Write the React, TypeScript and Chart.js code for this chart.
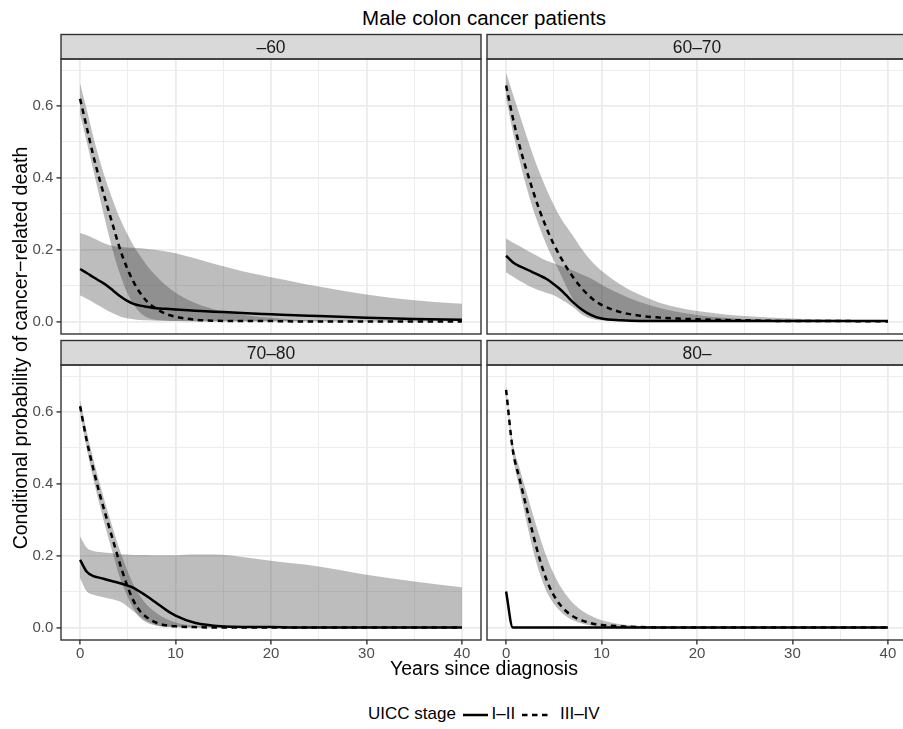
import React, { useEffect, useRef } from 'react';
import { Chart, registerables } from 'chart.js';

Chart.register(...registerables);

const FONT = "'Liberation Sans', Arial, Helvetica, sans-serif";

// ---------------- data ----------------
const YEARS = [0, 0.7, 1.4, 2.1, 2.8, 3.5, 4.2, 4.9, 5.6, 6.3, 7, 8, 9, 10, 12, 14, 16, 18, 20, 22.5, 25, 30, 35, 40];

const PANEL_LABELS = ['–60', '60–70', '70–80', '80–'];
const STAGES = ['I–II', 'III–IV'];

const X_TICKS = [0, 10, 20, 30, 40];
const X_MINOR = [5, 15, 25, 35];
const Y_TICKS = [0, 0.2, 0.4, 0.6];
const Y_MINOR = [0.1, 0.3, 0.5, 0.7];

// panel "-60"
const P1_I_II = [0.146, 0.135, 0.123, 0.112, 0.100, 0.085, 0.070, 0.058, 0.049, 0.044, 0.041, 0.037, 0.035, 0.033, 0.030, 0.027, 0.025, 0.022, 0.020, 0.017, 0.015, 0.010, 0.007, 0.005];
const P1_I_II_LO = [0.072, 0.063, 0.053, 0.042, 0.031, 0.022, 0.014, 0.009, 0.006, 0.004, 0.003, 0.002, 0.002, 0.001, 0.001, 0.001, 0.001, 0.001, 0.001, 0.001, 0.001, 0.001, 0.001, 0.001];
const P1_I_II_HI = [0.246, 0.240, 0.232, 0.223, 0.215, 0.210, 0.208, 0.206, 0.205, 0.204, 0.202, 0.199, 0.195, 0.190, 0.176, 0.161, 0.147, 0.134, 0.123, 0.110, 0.097, 0.075, 0.059, 0.049];
const P1_III_IV = [0.620, 0.540, 0.460, 0.390, 0.325, 0.262, 0.200, 0.150, 0.110, 0.079, 0.056, 0.035, 0.021, 0.013, 0.005, 0.002, 0.001, 0.001, 0.001, 0, 0, 0, 0, 0];
const P1_III_IV_LO = [0.578, 0.500, 0.420, 0.340, 0.262, 0.190, 0.130, 0.082, 0.048, 0.024, 0.011, 0.004, 0.002, 0.001, 0, 0, 0, 0, 0, 0, 0, 0, 0, 0];
const P1_III_IV_HI = [0.663, 0.590, 0.513, 0.445, 0.385, 0.333, 0.285, 0.246, 0.211, 0.182, 0.156, 0.126, 0.100, 0.080, 0.052, 0.034, 0.023, 0.015, 0.010, 0.005, 0.003, 0.001, 0.001, 0];

// panel "60-70"
const P2_I_II = [0.183, 0.165, 0.154, 0.146, 0.137, 0.128, 0.119, 0.106, 0.091, 0.073, 0.054, 0.032, 0.017, 0.008, 0.003, 0.001, 0.001, 0.001, 0.001, 0.001, 0.001, 0.001, 0.001, 0.001];
const P2_I_II_LO = [0.137, 0.125, 0.113, 0.103, 0.094, 0.086, 0.080, 0.074, 0.064, 0.053, 0.040, 0.018, 0.007, 0.003, 0.001, 0, 0, 0, 0, 0, 0, 0, 0, 0];
const P2_I_II_HI = [0.231, 0.220, 0.210, 0.199, 0.189, 0.179, 0.170, 0.163, 0.156, 0.149, 0.142, 0.130, 0.118, 0.102, 0.076, 0.054, 0.038, 0.026, 0.018, 0.011, 0.007, 0.003, 0.001, 0.001];
const P2_III_IV = [0.657, 0.568, 0.490, 0.425, 0.365, 0.310, 0.262, 0.220, 0.184, 0.152, 0.124, 0.090, 0.064, 0.046, 0.026, 0.016, 0.011, 0.008, 0.006, 0.004, 0.003, 0.001, 0.001, 0];
const P2_III_IV_LO = [0.622, 0.530, 0.450, 0.378, 0.315, 0.262, 0.215, 0.175, 0.138, 0.098, 0.062, 0.028, 0.012, 0.006, 0.003, 0.002, 0.001, 0.001, 0.001, 0.001, 0, 0, 0, 0];
const P2_III_IV_HI = [0.693, 0.635, 0.577, 0.520, 0.465, 0.415, 0.370, 0.330, 0.294, 0.265, 0.239, 0.199, 0.166, 0.141, 0.102, 0.074, 0.053, 0.039, 0.029, 0.021, 0.015, 0.008, 0.005, 0.003];

// panel "70-80"
const P3_I_II = [0.188, 0.155, 0.143, 0.138, 0.133, 0.128, 0.123, 0.117, 0.110, 0.099, 0.087, 0.068, 0.049, 0.033, 0.013, 0.005, 0.002, 0.001, 0.001, 0, 0, 0, 0, 0];
const P3_I_II_LO = [0.137, 0.100, 0.091, 0.086, 0.082, 0.078, 0.072, 0.060, 0.045, 0.030, 0.017, 0.006, 0.002, 0.001, 0, 0, 0, 0, 0, 0, 0, 0, 0, 0];
const P3_I_II_HI = [0.253, 0.222, 0.213, 0.210, 0.208, 0.206, 0.204, 0.203, 0.202, 0.202, 0.202, 0.201, 0.201, 0.201, 0.203, 0.203, 0.200, 0.193, 0.186, 0.178, 0.170, 0.147, 0.128, 0.112];
const P3_III_IV = [0.616, 0.520, 0.440, 0.367, 0.302, 0.238, 0.175, 0.119, 0.074, 0.045, 0.028, 0.013, 0.006, 0.003, 0.001, 0, 0, 0, 0, 0, 0, 0, 0, 0];
const P3_III_IV_LO = [0.597, 0.497, 0.412, 0.336, 0.265, 0.200, 0.136, 0.090, 0.052, 0.026, 0.013, 0.005, 0.002, 0.001, 0, 0, 0, 0, 0, 0, 0, 0, 0, 0];
const P3_III_IV_HI = [0.634, 0.545, 0.468, 0.397, 0.331, 0.270, 0.212, 0.162, 0.119, 0.087, 0.063, 0.040, 0.024, 0.014, 0.005, 0.002, 0.001, 0, 0, 0, 0, 0, 0, 0];

// panel "80-"
const P4_I_II = [0.100, 0, 0, 0, 0, 0, 0, 0, 0, 0, 0, 0, 0, 0, 0, 0, 0, 0, 0, 0, 0, 0, 0, 0];
const P4_III_IV = [0.662, 0.495, 0.415, 0.338, 0.262, 0.192, 0.135, 0.094, 0.065, 0.045, 0.031, 0.019, 0.011, 0.007, 0.003, 0.001, 0, 0, 0, 0, 0, 0, 0, 0];
const P4_III_IV_LO = [0.653, 0.478, 0.388, 0.300, 0.218, 0.152, 0.103, 0.070, 0.047, 0.031, 0.020, 0.010, 0.005, 0.002, 0.001, 0, 0, 0, 0, 0, 0, 0, 0, 0];
const P4_III_IV_HI = [0.671, 0.515, 0.445, 0.380, 0.315, 0.255, 0.200, 0.155, 0.118, 0.090, 0.068, 0.046, 0.031, 0.020, 0.009, 0.004, 0.002, 0.001, 0, 0, 0, 0, 0, 0];

type PanelData = {
  label: string;
  i: number[];
  iLo: number[] | null;
  iHi: number[] | null;
  iii: number[];
  iiiLo: number[];
  iiiHi: number[];
};

const PANELS: PanelData[] = [
  { label: PANEL_LABELS[0], i: P1_I_II, iLo: P1_I_II_LO, iHi: P1_I_II_HI, iii: P1_III_IV, iiiLo: P1_III_IV_LO, iiiHi: P1_III_IV_HI },
  { label: PANEL_LABELS[1], i: P2_I_II, iLo: P2_I_II_LO, iHi: P2_I_II_HI, iii: P2_III_IV, iiiLo: P2_III_IV_LO, iiiHi: P2_III_IV_HI },
  { label: PANEL_LABELS[2], i: P3_I_II, iLo: P3_I_II_LO, iHi: P3_I_II_HI, iii: P3_III_IV, iiiLo: P3_III_IV_LO, iiiHi: P3_III_IV_HI },
  { label: PANEL_LABELS[3], i: P4_I_II, iLo: null, iHi: null, iii: P4_III_IV, iiiLo: P4_III_IV_LO, iiiHi: P4_III_IV_HI },
];

// ---------------- layout / style ----------------
const BOXES = [
  { left: 0, top: 33, width: 484, height: 304, showY: true, showX: false },
  { left: 484, top: 33, width: 426, height: 304, showY: false, showX: false },
  { left: 0, top: 339, width: 484, height: 321, showY: true, showX: true },
  { left: 484, top: 339, width: 426, height: 321, showY: false, showX: true },
];

const STRIP_H = 24.5;
const RIBBON = 'rgba(51,51,51,0.32)';
const GRID = '#EBEBEB';
const DARK = '#333333';
const LINE_W = 2.5;
const DASH = [5.5, 4.5];
const TICK_SIZE = 15;

const toPts = (ys: number[]) => YEARS.map((x, k) => ({ x, y: ys[k] }));

const panelDecor = {
  id: 'panelDecor',
  afterDraw(chart: any, _args: any, opts: any) {
    const { ctx, chartArea: a } = chart;
    ctx.save();
    ctx.fillStyle = '#D9D9D9';
    ctx.fillRect(a.left, a.top - STRIP_H, a.right - a.left, STRIP_H);
    ctx.strokeStyle = DARK;
    ctx.lineWidth = 1.4;
    ctx.strokeRect(a.left, a.top - STRIP_H, a.right - a.left, STRIP_H);
    ctx.strokeRect(a.left, a.top, a.right - a.left, a.bottom - a.top);
    ctx.fillStyle = '#1A1A1A';
    ctx.font = `17.5px ${FONT}`;
    ctx.textAlign = 'center';
    ctx.textBaseline = 'middle';
    ctx.fillText(opts.label, (a.left + a.right) / 2, a.top - STRIP_H / 2 + 1);
    ctx.restore();
  },
};

function buildConfig(p: PanelData, box: typeof BOXES[number]): any {
  const base = {
    pointRadius: 0,
    pointHoverRadius: 0,
    cubicInterpolationMode: 'monotone',
  };
  const datasets: any[] = [
    { ...base, label: STAGES[0], data: toPts(p.i), borderColor: '#000', borderWidth: LINE_W, fill: false },
    { ...base, label: STAGES[1], data: toPts(p.iii), borderColor: '#000', borderWidth: LINE_W, borderDash: DASH, fill: false },
  ];
  const ribbon = (lo: number[], hi: number[], name: string) => {
    datasets.push({ ...base, label: name + ' lo', data: toPts(lo), borderColor: 'rgba(0,0,0,0)', borderWidth: 0, fill: false });
    datasets.push({ ...base, label: name + ' hi', data: toPts(hi), borderColor: 'rgba(0,0,0,0)', borderWidth: 0, fill: '-1', backgroundColor: RIBBON });
  };
  if (p.iLo && p.iHi) ribbon(p.iLo, p.iHi, STAGES[0]);
  ribbon(p.iiiLo, p.iiiHi, STAGES[1]);

  const xAll = [...X_TICKS, ...X_MINOR].sort((a, b) => a - b);
  const yAll = [...Y_TICKS, ...Y_MINOR].sort((a, b) => a - b);

  return {
    type: 'line',
    data: { datasets },
    plugins: [panelDecor],
    options: {
      responsive: false,
      animation: false,
      devicePixelRatio: 1,
      events: [],
      layout: { padding: { top: 26, right: 3, left: 0, bottom: 0 } },
      plugins: {
        legend: { display: false },
        tooltip: { enabled: false },
        panelDecor: { label: p.label },
      },
      scales: {
        x: {
          type: 'linear',
          bounds: 'data',
          min: -2,
          max: 42,
          afterBuildTicks: (s: any) => {
            s.ticks = xAll.map((v) => ({ value: v }));
          },
          afterFit: (s: any) => {
            s.height = box.showX ? 20 : 3;
            s.paddingLeft = 0;
            s.paddingRight = 0;
          },
          border: { display: false },
          grid: {
            color: GRID,
            lineWidth: (c: any) => (X_TICKS.includes(c.tick?.value) ? 1.8 : 0.9),
            drawTicks: box.showX,
            tickLength: 4.5,
            tickWidth: 1.4,
            tickColor: (c: any) => (X_TICKS.includes(c.tick?.value) ? DARK : 'rgba(0,0,0,0)'),
          },
          ticks: {
            display: box.showX,
            autoSkip: false,
            maxRotation: 0,
            padding: 0,
            color: '#4D4D4D',
            font: { family: FONT, size: TICK_SIZE },
            callback: (v: number) => (X_TICKS.includes(v) ? String(v) : ''),
          },
        },
        y: {
          type: 'linear',
          bounds: 'data',
          min: -0.035,
          max: 0.731,
          afterBuildTicks: (s: any) => {
            s.ticks = yAll.map((v) => ({ value: v }));
          },
          afterFit: (s: any) => {
            s.width = box.showY ? 61 : 3;
            s.paddingTop = 0;
            s.paddingBottom = 0;
          },
          border: { display: false },
          grid: {
            color: GRID,
            lineWidth: (c: any) => (Y_TICKS.includes(c.tick?.value) ? 1.8 : 0.9),
            drawTicks: box.showY,
            tickLength: 4.5,
            tickWidth: 1.4,
            tickColor: (c: any) => (Y_TICKS.includes(c.tick?.value) ? DARK : 'rgba(0,0,0,0)'),
          },
          ticks: {
            display: box.showY,
            autoSkip: false,
            padding: 3.2,
            color: '#4D4D4D',
            font: { family: FONT, size: TICK_SIZE },
            callback: (v: number) => (Y_TICKS.includes(v) ? v.toFixed(1) : ''),
          },
        },
      },
    },
  };
}

function Panel({ p, box }: { p: PanelData; box: typeof BOXES[number] }) {
  const ref = useRef<HTMLCanvasElement>(null);
  useEffect(() => {
    const chart = new Chart(ref.current as HTMLCanvasElement, buildConfig(p, box));
    return () => chart.destroy();
  }, []);
  return (
    <canvas
      ref={ref}
      width={box.width}
      height={box.height}
      style={{ position: 'absolute', left: box.left, top: box.top, width: box.width, height: box.height }}
    />
  );
}

export default function App() {
  const text: React.CSSProperties = { position: 'absolute', whiteSpace: 'nowrap', color: '#000' };
  return (
    <div
      style={{
        position: 'absolute',
        left: 0,
        top: 0,
        width: 903,
        height: 729,
        overflow: 'hidden',
        background: '#fff',
        fontFamily: FONT,
      }}
    >
      {PANELS.map((p, k) => (
        <Panel key={k} p={p} box={BOXES[k]} />
      ))}
      <div style={{ ...text, left: 61, width: 846, top: 7.5, fontSize: 20.5, lineHeight: '20.5px', textAlign: 'center' }}>
        Male colon cancer patients
      </div>
      <div style={{ ...text, left: 61, width: 846, top: 658.5, fontSize: 19.5, lineHeight: '19.5px', textAlign: 'center' }}>
        Years since diagnosis
      </div>
      <div
        style={{
          ...text,
          left: 20 - 350,
          top: 348 - 10,
          width: 700,
          height: 20,
          fontSize: 19.5,
          lineHeight: '20px',
          textAlign: 'center',
          transform: 'rotate(-90deg)',
          transformOrigin: '50% 50%',
        }}
      >
        Conditional probability of cancer−related death
      </div>
      <div style={{ ...text, left: 368, top: 705, fontSize: 17, lineHeight: '17px' }}>UICC stage</div>
      <svg style={{ position: 'absolute', left: 463, top: 710 }} width={25} height={10}>
        <line x1={0} y1={5} x2={25} y2={5} stroke="#000" strokeWidth={LINE_W} />
      </svg>
      <div style={{ ...text, left: 491.5, top: 705, fontSize: 17, lineHeight: '17px' }}>{STAGES[0]}</div>
      <svg style={{ position: 'absolute', left: 521.5, top: 710 }} width={27} height={10}>
        <line x1={0} y1={5} x2={27} y2={5} stroke="#000" strokeWidth={LINE_W} strokeDasharray={DASH.join(' ')} />
      </svg>
      <div style={{ ...text, left: 560, top: 705, fontSize: 17, lineHeight: '17px' }}>{STAGES[1]}</div>
    </div>
  );
}
